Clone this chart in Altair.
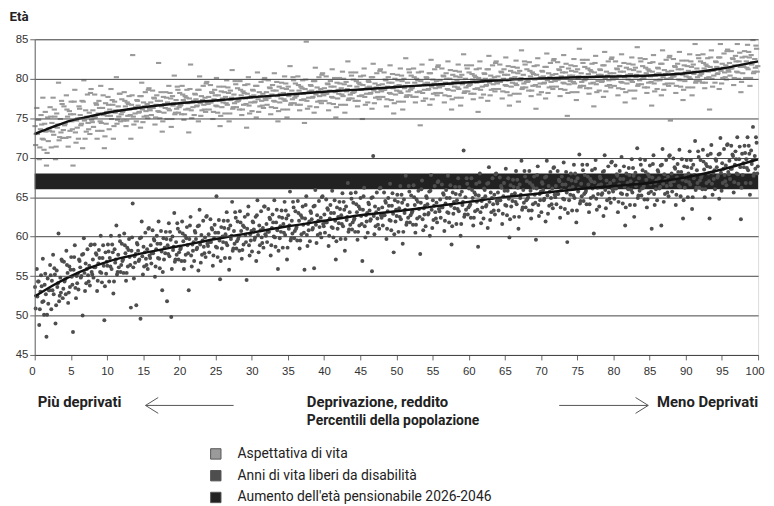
import altair as alt
import pandas as pd

# ---------------- data ----------------
bucket_starts = list(range(0, 100, 2))  # percentile bins, 2 points wide

life_expectancy = [
    "74.0 71.6 76.3 73.0 74.8 69.8 73.6 75.4 72.4 77.6 71.0 74.3 73.3 69.0 75.1 72.1",
    "73.4 76.4 71.3 74.4 77.6 72.9 75.2 69.8 75.6 73.8 79.5 72.2 74.9 73.2 76.8 72.5",
    "76.5 74.1 72.5 77.9 75.2 71.4 75.9 73.4 77.1 74.6 69.0 75.5 78.6 73.2 74.7 73.8",
    "72.4 76.5 75.4 74.1 77.2 71.2 79.8 74.7 76.0 73.3 78.0 74.4 75.7 73.0 78.7 74.8",
    "76.0 73.9 78.0 75.1 76.7 72.4 75.6 77.2 74.6 79.1 73.4 76.3 75.4 71.2 76.9 74.3",
    "75.3 77.7 73.6 76.1 78.7 74.9 76.7 72.4 77.1 75.7 80.2 74.3 76.5 75.2 78.1 74.6",
    "77.4 75.8 74.7 78.3 76.5 74.0 77.0 75.3 77.8 76.1 72.4 76.7 83.0 75.2 76.2 75.6",
    "74.6 77.3 76.6 75.7 77.8 73.8 79.5 76.1 77.0 75.2 78.3 75.9 76.8 75.0 78.8 76.2",
    "77.0 75.4 78.5 76.3 77.5 74.2 76.7 77.9 75.9 82.0 75.0 77.2 76.5 73.3 77.7 75.7",
    "76.3 78.3 74.9 77.0 79.1 76.0 77.5 73.9 77.8 76.6 80.4 75.5 77.3 76.2 78.6 75.7",
    "78.2 76.6 75.5 79.1 77.3 74.8 77.8 76.1 78.6 76.9 73.2 77.5 81.8 76.0 77.0 76.4",
    "75.4 78.1 77.4 76.5 78.6 74.6 80.3 76.9 77.8 76.0 79.1 76.7 77.6 75.8 79.6 77.0",
    "77.7 76.1 79.2 77.0 78.2 74.9 77.4 78.6 76.6 80.1 75.7 77.9 77.2 74.0 78.4 76.4",
    "77.0 79.0 75.6 77.7 79.8 76.7 78.2 74.6 78.5 77.3 81.1 76.2 78.0 76.9 79.3 76.4",
    "78.8 77.2 76.1 79.7 77.9 75.4 78.4 76.7 79.2 77.5 73.8 78.1 80.2 76.6 77.6 77.0",
    "75.9 78.6 77.9 77.0 79.1 75.1 80.8 77.4 78.3 76.5 79.6 77.2 78.1 76.3 80.1 77.5",
    "78.3 76.7 79.8 77.6 78.8 75.5 78.0 79.2 77.2 80.7 76.3 78.5 77.8 74.6 79.0 77.0",
    "77.5 79.5 76.1 78.2 80.3 77.2 78.7 75.1 79.0 77.8 81.6 76.7 78.5 77.4 79.8 76.9",
    "79.4 77.8 76.7 80.3 78.5 76.0 79.0 77.3 79.8 78.1 74.4 78.7 84.7 77.2 78.2 77.6",
    "76.5 79.2 78.5 77.6 79.7 75.7 81.4 78.0 78.9 77.1 80.2 77.8 78.7 76.9 80.7 78.1",
    "78.8 77.2 80.3 78.1 79.3 76.0 78.5 79.7 77.7 81.2 76.8 79.0 78.3 75.1 79.5 77.5",
    "78.1 80.1 76.7 78.8 80.9 77.8 79.3 75.7 79.6 78.4 82.2 77.3 79.1 78.0 80.4 77.5",
    "79.9 78.3 77.2 80.8 79.0 76.5 79.5 77.8 80.3 78.6 74.9 79.2 81.3 77.7 78.7 78.1",
    "77.0 79.7 79.0 78.1 80.2 76.2 81.9 78.5 79.4 77.6 80.7 78.3 79.2 77.4 81.2 78.6",
    "79.3 77.7 80.8 78.6 79.8 76.5 79.0 80.2 78.2 81.7 77.3 79.5 78.8 75.6 80.0 78.0",
    "78.5 80.5 77.1 79.2 81.3 78.2 79.7 76.1 80.0 78.8 82.6 77.7 79.5 78.4 80.8 77.9",
    "80.4 78.8 77.7 81.3 79.5 77.0 80.0 78.3 80.8 79.1 74.1 79.7 81.8 78.2 79.2 78.6",
    "77.5 80.2 79.5 78.6 80.7 76.7 82.4 79.0 79.9 78.1 81.2 78.8 79.7 77.9 81.7 79.1",
    "79.8 78.2 81.3 79.1 80.3 77.0 79.5 80.7 78.7 82.2 77.8 80.0 79.3 76.1 80.5 78.5",
    "79.0 81.0 77.6 79.7 81.8 78.7 80.2 76.6 80.5 79.3 83.1 78.2 80.0 78.9 81.3 78.4",
    "80.8 79.2 78.1 81.7 79.9 77.4 80.4 78.7 81.2 79.5 75.8 80.1 82.2 78.6 79.6 79.0",
    "78.0 80.7 80.0 79.1 81.2 77.2 82.9 79.5 80.4 78.6 81.7 79.3 80.2 78.4 82.2 79.6",
    "80.3 78.7 81.8 79.6 80.8 77.5 80.0 81.2 79.2 82.7 78.3 80.5 79.8 76.6 81.0 79.0",
    "79.5 81.5 78.1 80.2 82.3 79.2 80.7 77.1 81.0 79.8 83.6 78.7 80.5 79.4 81.8 78.9",
    "81.2 79.6 78.5 82.1 80.3 77.8 80.8 79.1 81.6 79.9 76.2 80.5 82.6 79.0 80.0 79.4",
    "78.3 81.0 80.3 79.4 81.5 77.5 83.2 79.8 80.7 78.9 82.0 79.6 80.5 78.7 82.5 79.9",
    "80.6 79.0 82.1 79.9 81.1 77.8 80.3 81.5 79.5 83.0 78.6 80.8 80.1 75.3 81.3 79.3",
    "79.7 81.7 78.3 80.4 82.5 79.4 80.9 77.3 81.2 80.0 83.8 78.9 80.7 79.6 82.0 79.1",
    "81.5 79.9 78.8 82.4 80.6 78.1 81.1 79.4 81.9 80.2 76.5 80.8 82.9 79.3 80.3 79.7",
    "78.5 81.2 80.5 79.6 81.7 77.7 83.4 80.0 80.9 79.1 82.2 79.8 80.7 78.9 82.7 80.1",
    "80.7 79.1 82.2 80.0 81.2 77.9 80.4 81.6 79.6 83.1 78.7 80.9 80.2 77.0 81.4 79.4",
    "79.9 81.9 78.5 80.6 82.7 79.6 81.1 77.5 81.4 80.2 84.0 79.1 80.9 79.8 82.2 79.3",
    "81.6 80.0 78.9 82.5 80.7 78.2 81.2 79.5 82.0 80.3 76.6 80.9 83.0 79.4 80.4 79.8",
    "78.7 81.4 80.7 79.8 81.9 77.9 83.6 80.2 81.1 79.3 82.4 80.0 80.9 79.1 82.9 74.7",
    "81.0 79.4 82.5 80.3 81.5 78.2 80.7 81.9 79.9 83.4 79.0 81.2 80.5 77.3 81.7 79.7",
    "80.3 82.3 78.9 81.0 83.1 80.0 81.5 77.9 81.8 80.6 84.4 79.5 81.3 80.2 82.6 79.7",
    "82.2 80.6 79.5 83.1 81.3 78.8 81.8 80.1 82.6 80.9 76.1 81.5 83.6 80.0 81.0 80.4",
    "79.5 82.2 81.5 80.6 82.7 78.7 84.4 81.0 81.9 80.1 83.2 80.8 81.7 79.9 83.7 81.1",
    "82.0 80.4 83.5 81.3 82.5 79.2 81.7 82.9 80.9 84.4 80.0 82.2 81.5 78.3 82.7 80.7",
    "81.5 83.5 80.1 82.2 84.3 81.2 82.7 79.1 83.0 81.8 84.9 80.7 82.5 81.4 83.8 80.9",
]

life_expectancy_more = [
    "73.0 74.8 71.3 74.2 72.3 75.8 70.6 73.7", "75.2 73.3 76.1 71.4 74.2 72.6 77.2 73.5",
    "74.3 76.1 72.6 75.5 73.6 77.1 71.9 75.0", "76.2 74.3 77.1 72.4 75.2 73.6 78.2 74.5",
    "75.1 76.9 73.4 76.3 74.4 77.9 72.7 75.8", "76.7 75.3 77.3 74.0 76.0 74.8 78.1 75.5",
    "75.9 77.2 74.7 76.8 75.4 77.9 74.2 76.4", "77.2 75.8 77.8 74.5 76.5 75.3 78.6 76.0",
    "76.3 77.6 75.1 77.2 75.8 78.3 74.6 76.8", "77.6 76.2 78.2 74.9 76.9 75.7 79.0 76.4",
    "76.7 78.0 75.5 77.6 76.2 78.7 75.0 77.2", "78.0 76.6 78.6 75.3 77.3 76.1 79.4 76.8",
    "77.0 78.3 75.8 77.9 76.5 79.0 75.3 77.5", "78.3 76.9 78.9 75.6 77.6 76.4 79.7 77.1",
    "77.3 78.6 76.1 78.2 76.8 79.3 75.6 77.8", "78.5 77.1 79.1 75.8 77.8 76.6 79.9 77.3",
    "77.6 78.9 76.4 78.5 77.1 79.6 75.9 78.1", "78.8 77.4 79.4 76.1 78.1 76.9 80.2 77.6",
    "77.9 79.2 76.7 78.8 77.4 79.9 76.2 78.4", "79.1 77.7 79.7 76.4 78.4 77.2 80.5 77.9",
    "78.1 79.4 76.9 79.0 77.6 80.1 76.4 78.6", "79.4 78.0 80.0 76.7 78.7 77.5 80.8 78.2",
    "78.4 79.7 77.2 79.3 77.9 80.4 76.7 78.9", "79.6 78.2 80.2 76.9 78.9 77.7 81.0 78.4",
    "78.6 79.9 77.4 79.5 78.1 80.6 76.9 79.1", "79.8 78.4 80.4 77.1 79.1 77.9 81.2 78.6",
    "78.9 80.2 77.7 79.8 78.4 80.9 77.2 79.4", "80.1 78.7 80.7 77.4 79.4 78.2 81.5 78.9",
    "79.1 80.4 77.9 80.0 78.6 81.1 77.4 79.6", "80.3 78.9 80.9 77.6 79.6 78.4 81.7 79.1",
    "79.3 80.6 78.1 80.2 78.8 81.3 77.6 79.8", "80.6 79.2 81.2 77.9 79.9 78.7 82.0 79.4",
    "79.6 80.9 78.4 80.5 79.1 81.6 77.9 80.1", "80.8 79.4 81.4 78.1 80.1 78.9 82.2 79.6",
    "79.7 81.0 78.5 80.6 79.2 81.7 78.0 80.2", "80.9 79.5 81.5 78.2 80.2 79.0 82.3 79.7",
    "79.9 81.2 78.7 80.8 79.4 81.9 78.2 80.4", "81.0 79.6 81.6 78.3 80.3 79.1 82.4 79.8",
    "80.0 81.3 78.8 80.9 79.5 82.0 78.3 80.5", "81.1 79.7 81.7 78.4 80.4 79.2 82.5 79.9",
    "80.0 81.3 78.8 80.9 79.5 82.0 78.3 80.5", "81.2 79.8 81.8 78.5 80.5 79.3 82.6 80.0",
    "80.1 81.4 78.9 81.0 79.6 82.1 78.4 80.6", "81.3 79.9 81.9 78.6 80.6 79.4 82.7 80.1",
    "80.3 81.6 79.1 81.2 79.8 82.3 78.6 80.8", "81.6 80.2 82.2 78.9 80.9 79.7 83.0 80.4",
    "80.7 82.0 79.5 81.6 80.2 82.7 79.0 81.2", "82.1 80.7 82.7 79.4 81.4 80.2 83.5 80.9",
    "81.3 82.6 80.1 82.2 80.8 83.3 79.6 81.8", "82.8 81.4 83.4 80.1 82.1 80.9 84.2 81.6",
]

disability_free = [
    "53.6 50.9 55.9 52.4 54.3 48.8 53.0 55.1 51.7 57.2 50.1 53.9 52.7 47.3 54.7 51.5",
    "53.2 56.4 50.8 54.4 57.7 52.7 55.2 49.0 55.7 53.6 60.4 51.8 54.8 52.9 56.9 52.2",
    "56.8 54.3 52.7 58.2 55.4 51.6 56.2 53.6 57.4 54.9 47.9 55.8 58.9 53.5 55.0 54.1",
    "53.3 57.1 56.1 54.8 57.7 50.0 59.8 55.4 56.6 54.1 58.4 55.1 56.3 53.8 59.0 55.5",
    "57.1 54.8 59.0 56.1 57.7 53.1 56.6 58.3 55.5 60.1 54.2 57.3 56.3 49.4 58.0 55.3",
    "56.3 59.0 54.3 57.3 60.1 55.9 58.0 52.8 58.4 56.7 61.4 55.2 57.7 56.1 59.4 55.5",
    "59.1 56.9 55.4 60.4 57.9 54.4 58.6 56.2 59.7 57.4 51.0 58.2 64.2 56.1 57.5 56.7",
    "51.3 59.2 58.2 56.9 59.8 49.6 61.9 57.5 58.7 56.2 60.5 57.2 58.4 55.9 61.1 57.6",
    "58.9 56.6 60.8 57.9 59.5 54.9 58.4 60.1 57.3 61.9 56.0 59.1 58.1 53.2 59.8 57.1",
    "57.9 60.6 51.8 58.9 61.7 57.5 59.6 49.8 60.0 58.3 63.0 56.8 59.3 57.7 61.0 57.1",
    "60.6 58.4 56.9 61.9 59.4 55.9 60.1 57.7 61.2 58.9 53.2 59.7 62.5 57.6 59.0 58.2",
    "56.9 60.7 59.7 58.4 61.3 55.7 63.4 59.0 60.2 57.7 62.0 58.7 59.9 57.4 62.6 59.1",
    "60.3 58.0 62.2 59.3 60.9 56.3 59.8 61.5 58.7 65.1 57.4 60.5 59.5 54.6 61.2 58.5",
    "59.3 62.0 57.3 60.3 63.1 58.9 61.0 55.8 61.4 59.7 64.4 58.2 60.7 59.1 62.4 58.5",
    "61.9 59.7 58.2 63.2 60.7 57.2 61.4 59.0 62.5 60.2 54.5 61.0 63.8 58.9 60.3 59.5",
    "58.1 61.9 60.9 59.6 62.5 56.9 64.6 60.2 61.4 58.9 63.2 59.9 61.1 58.6 63.8 60.3",
    "61.6 59.3 63.5 60.6 62.2 57.6 61.1 62.8 60.0 64.6 58.7 61.8 60.8 55.9 62.5 59.8",
    "60.6 63.3 58.6 61.6 64.4 60.2 62.3 57.1 62.7 61.0 65.7 59.5 62.0 60.4 63.7 59.8",
    "63.2 61.0 59.5 64.5 62.0 58.5 62.7 60.3 63.8 61.5 55.8 62.3 65.1 60.2 61.6 60.8",
    "59.4 63.2 62.2 60.9 63.8 56.0 65.9 61.5 62.7 60.2 64.5 61.2 62.4 59.9 65.1 61.6",
    "62.8 60.5 64.7 61.8 63.4 58.8 62.3 64.0 61.2 65.8 59.9 63.0 62.0 57.1 63.7 61.0",
    "61.7 64.4 59.7 62.7 65.5 61.3 63.4 58.2 63.8 62.1 66.8 60.6 63.1 61.5 64.8 60.9",
    "64.3 62.1 60.6 65.6 63.1 59.6 63.8 61.4 64.9 62.6 56.9 63.4 66.2 61.3 62.7 61.9",
    "60.5 64.3 63.3 62.0 64.9 55.6 70.2 62.6 63.8 61.3 65.6 62.3 63.5 61.0 66.2 62.7",
    "63.7 61.4 65.6 62.7 64.3 59.7 63.2 64.9 62.1 66.7 60.8 63.9 62.9 58.0 64.6 61.9",
    "62.6 65.3 60.6 63.6 66.4 62.2 64.3 59.1 64.7 63.0 67.7 61.5 64.0 62.4 65.7 61.8",
    "65.2 63.0 61.5 66.5 64.0 60.5 64.7 62.3 65.8 63.5 57.8 64.3 67.1 62.2 63.6 62.8",
    "61.3 65.1 64.1 62.8 65.7 60.1 67.8 63.4 64.6 62.1 66.4 63.1 64.3 61.8 67.0 63.5",
    "64.7 62.4 66.6 63.7 65.3 60.7 64.2 65.9 63.1 67.7 61.8 64.9 63.9 59.0 65.6 62.9",
    "63.6 66.3 61.6 64.6 67.4 63.2 65.3 60.1 65.7 64.0 70.9 62.5 65.0 63.4 66.7 62.8",
    "66.1 63.9 62.4 67.4 64.9 61.4 65.6 63.2 66.7 64.4 58.7 65.2 68.0 63.1 64.5 63.7",
    "62.3 66.1 65.1 63.8 66.7 61.1 68.8 64.4 65.6 63.1 67.4 64.1 65.3 62.8 68.0 64.5",
    "65.6 63.3 67.5 64.6 66.2 61.6 65.1 66.8 64.0 68.6 62.7 65.8 64.8 59.9 66.5 63.8",
    "64.5 67.2 62.5 65.5 68.3 64.1 66.2 61.0 66.6 64.9 69.6 63.4 65.9 64.3 67.6 63.7",
    "67.0 64.8 63.3 68.3 65.8 62.3 66.5 64.1 67.6 65.3 59.6 66.1 68.9 64.0 65.4 64.6",
    "63.1 66.9 65.9 64.6 67.5 61.9 69.6 65.2 66.4 63.9 68.2 64.9 66.1 63.6 68.8 65.3",
    "66.4 64.1 68.3 65.4 67.0 62.4 65.9 67.6 64.8 69.4 63.5 66.6 65.6 59.3 67.3 64.6",
    "65.3 68.0 63.3 66.3 69.1 64.9 67.0 61.8 67.4 65.7 70.4 64.2 66.7 65.1 68.4 64.5",
    "67.8 65.6 64.1 69.1 66.6 63.1 67.3 64.9 68.4 66.1 60.4 66.9 69.7 64.8 66.2 65.4",
    "63.8 67.6 66.6 65.3 68.2 62.6 70.3 65.9 67.1 64.6 68.9 65.6 66.8 64.3 69.5 66.0",
    "67.1 64.8 69.0 66.1 67.7 63.1 66.6 68.3 65.5 70.1 64.2 67.3 66.3 61.4 68.0 65.3",
    "66.0 68.7 64.0 67.0 69.8 65.6 67.7 62.5 68.1 66.4 71.2 64.9 67.4 65.8 69.1 65.2",
    "68.4 66.2 64.7 69.7 67.2 63.7 67.9 65.5 69.0 66.7 61.0 67.5 70.3 65.4 66.8 66.0",
    "64.6 68.4 67.4 66.1 69.0 61.4 71.1 66.7 67.9 65.4 69.7 66.4 67.6 65.1 70.3 66.8",
    "68.0 65.7 69.9 67.0 68.6 64.0 67.5 69.2 66.4 71.0 65.1 68.2 67.2 62.3 68.9 66.2",
    "67.0 69.7 65.0 68.0 70.8 66.6 68.7 63.5 69.1 67.4 72.1 65.9 68.4 66.8 70.1 66.2",
    "69.7 67.5 66.0 71.0 68.5 65.0 69.2 66.8 70.3 68.0 62.3 68.8 71.6 66.7 68.1 67.3",
    "66.0 69.8 68.8 67.5 70.4 64.8 72.5 68.1 69.3 66.8 71.1 67.8 69.0 66.5 71.7 68.2",
    "69.6 67.3 71.5 68.6 70.2 65.6 69.1 70.8 68.0 72.6 66.7 69.8 68.8 62.2 70.5 67.8",
    "68.8 71.5 66.8 69.8 72.6 68.4 70.5 65.3 70.9 69.2 73.9 67.7 70.2 68.6 71.9 68.0",
]

disability_free_more = [
    "52.5 54.3 50.8 53.7 51.8 55.3 50.1 53.2", "55.1 53.2 56.0 51.3 54.1 52.5 57.1 53.4",
    "54.6 56.4 52.9 55.8 53.9 57.4 52.2 55.3", "56.9 55.0 57.8 53.1 55.9 54.3 58.9 55.2",
    "56.1 57.9 54.4 57.3 55.4 58.9 53.7 56.8", "58.1 56.2 59.0 54.3 57.1 55.5 60.1 56.4",
    "57.1 58.9 55.4 58.3 56.4 59.9 54.7 57.8", "59.0 57.1 59.9 55.2 58.0 56.4 61.0 57.3",
    "57.9 59.7 56.2 59.1 57.2 60.7 55.5 58.6", "59.7 57.8 60.6 55.9 58.7 57.1 61.7 58.0",
    "58.6 60.4 56.9 59.8 57.9 61.4 56.2 59.3", "60.5 58.6 61.4 56.7 59.5 57.9 62.5 58.8",
    "59.3 61.1 57.6 60.5 58.6 62.1 56.9 60.0", "61.1 59.2 62.0 57.3 60.1 58.5 63.1 59.4",
    "60.0 61.8 58.3 61.2 59.3 62.8 57.6 60.7", "61.8 59.9 62.7 58.0 60.8 59.2 63.8 60.1",
    "60.6 62.4 58.9 61.8 59.9 63.4 58.2 61.3", "62.4 60.5 63.3 58.6 61.4 59.8 64.4 60.7",
    "61.2 63.0 59.5 62.4 60.5 64.0 58.8 61.9", "63.0 61.1 63.9 59.2 62.0 60.4 65.0 61.3",
    "61.8 63.6 60.1 63.0 61.1 64.6 59.4 62.5", "63.5 61.6 64.4 59.7 62.5 60.9 65.5 61.8",
    "62.3 64.1 60.6 63.5 61.6 65.1 59.9 63.0", "64.1 62.2 65.0 60.3 63.1 61.5 66.1 62.4",
    "62.7 64.5 61.0 63.9 62.0 65.5 60.3 63.4", "64.4 62.5 65.3 60.6 63.4 61.8 66.4 62.7",
    "63.2 65.0 61.5 64.4 62.5 66.0 60.8 63.9", "64.9 63.0 65.8 61.1 63.9 62.3 66.9 63.2",
    "63.7 65.5 62.0 64.9 63.0 66.5 61.3 64.4", "65.4 63.5 66.3 61.6 64.4 62.8 67.4 63.7",
    "64.1 65.9 62.4 65.3 63.4 66.9 61.7 64.8", "65.9 64.0 66.8 62.1 64.9 63.3 67.9 64.2",
    "64.6 66.4 62.9 65.8 63.9 67.4 62.2 65.3", "66.3 64.4 67.2 62.5 65.3 63.7 68.3 64.6",
    "65.0 66.8 63.3 66.2 64.3 67.8 62.6 65.7", "66.7 64.8 67.6 62.9 65.7 64.1 68.7 65.0",
    "65.4 67.2 63.7 66.6 64.7 68.2 63.0 66.1", "67.1 65.2 68.0 63.3 66.1 64.5 69.1 65.4",
    "65.8 67.6 64.1 67.0 65.1 68.6 63.4 66.5", "67.4 65.5 68.3 63.6 66.4 64.8 69.4 65.7",
    "66.1 67.9 64.4 67.3 65.4 68.9 63.7 66.8", "67.8 65.9 68.7 64.0 66.8 65.2 69.8 66.1",
    "66.4 68.2 64.7 67.6 65.7 69.2 64.0 67.1", "68.2 66.3 69.1 64.4 67.2 65.6 70.2 66.5",
    "67.0 68.8 65.3 68.2 66.3 69.8 64.6 67.7", "68.8 66.9 69.7 65.0 67.8 66.2 70.8 67.1",
    "67.7 69.5 66.0 68.9 67.0 70.5 65.3 68.4", "69.6 67.7 70.5 65.8 68.6 67.0 71.6 67.9",
    "68.6 70.4 66.9 69.8 67.9 71.4 66.2 69.3", "70.6 68.7 71.5 66.8 69.6 68.0 72.6 68.9",
]

trend_x = [0, 2.5, 5, 7.5, 10, 15, 20, 25, 30, 35, 40, 45, 50, 55, 60, 65, 70, 75, 80, 85, 90, 95, 100]
le_trend = [73.0, 73.9, 74.7, 75.2, 75.7, 76.4, 76.9, 77.25, 77.65, 78.0, 78.35, 78.65, 78.95,
            79.25, 79.55, 79.85, 80.05, 80.2, 80.3, 80.4, 80.7, 81.3, 82.2]
dfle_trend = [52.4, 53.8, 55.0, 56.0, 56.8, 57.9, 58.8, 59.7, 60.5, 61.3, 62.0, 62.7, 63.2,
              63.8, 64.4, 65.0, 65.5, 66.0, 66.4, 66.8, 67.5, 68.5, 69.8]

band_from = [0]
band_to = [100]
band_low = [66]
band_high = [68]

series_names = ["Aspettativa di vita", "Anni di vita liberi da disabilità",
                "Aumento dell'età pensionabile 2026-2046"]
series_colors = ["#9a9a9a", "#4e4e4e", "#222222"]

x_ticks = list(range(0, 101, 5))
y_ticks = list(range(45, 86, 5))

left_label = ["Più deprivati"]
right_label = ["Meno Deprivati"]
center_label = ["Deprivazione, reddito", "Percentili della popolazione"]
y_title = "Età"

# ---------------- tables ----------------
def bucket_table(rows, more_rows, name):
    recs = []
    for start, row, more in zip(bucket_starts, rows, more_rows):
        a = [float(v) for v in row.split()]
        b = [float(v) for v in more.split()]
        vals = []
        # interleave: two from the main reading, one from the extra reading
        for k in range(len(b)):
            vals += a[2 * k:2 * k + 2] + [b[k]]
        vals += a[2 * len(b):]
        n = len(vals)
        for i, v in enumerate(vals):
            recs.append({"x": start + 2.0 * (i + 0.5) / n, "y": v, "series": name})
    return pd.DataFrame(recs)

le_df = bucket_table(life_expectancy, life_expectancy_more, series_names[0])
dfle_df = bucket_table(disability_free, disability_free_more, series_names[1])
trend_df = pd.DataFrame(
    [{"x": a, "y": b, "k": "le"} for a, b in zip(trend_x, le_trend)]
    + [{"x": a, "y": b, "k": "dfle"} for a, b in zip(trend_x, dfle_trend)]
)
band_df = pd.DataFrame({"x": band_from, "x2": band_to, "y": band_low, "y2": band_high,
                        "series": [series_names[2]]})

FONT_NUM = "Liberation Sans"
FONT_TXT = "Roboto, sans-serif"

color_scale = alt.Scale(domain=series_names, range=series_colors)
legend = alt.Legend(
    title=None, orient="none", legendX=176, legendY=412,
    symbolType="square", symbolSize=110, symbolStrokeColor="#555555",
    symbolStrokeWidth=1, symbolOpacity=1,
    labelFont=FONT_TXT, labelFontSize=14, labelColor="#222222",
    labelOffset=15, rowPadding=6, labelLimit=400,
)

X = alt.X("x:Q", scale=alt.Scale(domain=[0, 100], nice=False),
          axis=alt.Axis(values=x_ticks, tickCount=40, labelOverlap=False, title=None, grid=False,
                        labelFont=FONT_NUM, labelFontSize=11.5, labelColor="#333333",
                        tickColor="#666666", domainColor="#666666", tickSize=5,
                        labelPadding=6, labelFlush=True, labelFlushOffset=6))
Y = alt.Y("y:Q", scale=alt.Scale(domain=[45, 85], nice=False),
          axis=alt.Axis(values=y_ticks, tickCount=40, labelOverlap=False, grid=True,
                        gridColor="#444444", gridWidth=1,
                        title=y_title, titleAngle=0, titleAlign="left", titleX=-26,
                        titleY=-16, titleFont=FONT_TXT, titleFontSize=13.5,
                        titleFontWeight="bold", titleColor="#222222",
                        labelFont=FONT_NUM, labelFontSize=11.5, labelColor="#333333",
                        tickColor="#666666", domainColor="#666666", tickSize=5,
                        labelPadding=2, zindex=1))

le_layer = alt.Chart(le_df).mark_point(
    shape="M-1,-0.4H1V0.4H-1Z", filled=True, size=28, opacity=1
).encode(x=X, y=Y, color=alt.Color("series:N", scale=color_scale, legend=legend))

band_layer = alt.Chart(band_df).mark_rect(opacity=1).encode(
    x="x:Q", x2="x2:Q", y="y:Q", y2="y2:Q",
    color=alt.Color("series:N", scale=color_scale, legend=legend))

dfle_layer = alt.Chart(dfle_df).mark_circle(size=16, opacity=1).encode(
    x="x:Q", y="y:Q", color=alt.Color("series:N", scale=color_scale, legend=legend))

trend_layer = alt.Chart(trend_df).mark_line(
    color="#111111", strokeWidth=2.5, interpolate="monotone"
).encode(x="x:Q", y="y:Q", detail="k:N")

txt_style = dict(font=FONT_TXT, fontWeight="bold", color="#222222", baseline="middle")

left_txt = alt.Chart(pd.DataFrame({"t": left_label})).mark_text(
    align="left", fontSize=15, **txt_style).encode(text="t:N", x=alt.value(3), y=alt.value(367))
right_txt = alt.Chart(pd.DataFrame({"t": right_label})).mark_text(
    align="right", fontSize=15, **txt_style).encode(text="t:N", x=alt.value(731), y=alt.value(367))
center_txt1 = alt.Chart(pd.DataFrame({"t": center_label[:1]})).mark_text(
    align="left", fontSize=15, **txt_style).encode(text="t:N", x=alt.value(275), y=alt.value(367))
center_txt2 = alt.Chart(pd.DataFrame({"t": center_label[1:]})).mark_text(
    align="left", fontSize=14, **txt_style).encode(text="t:N", x=alt.value(275), y=alt.value(386))

arrow_df = pd.DataFrame({"a": [1]})
left_shaft = alt.Chart(arrow_df).mark_rule(color="#555555", strokeWidth=1).encode(
    x=alt.value(112), x2=alt.value(201), y=alt.value(370))
right_shaft = alt.Chart(arrow_df).mark_rule(color="#555555", strokeWidth=1).encode(
    x=alt.value(530), x2=alt.value(620), y=alt.value(370))
left_head = alt.Chart(arrow_df).mark_point(
    shape="M0.6,-1L-1,0L0.6,1", filled=False, size=256, color="#555555", strokeWidth=1, opacity=1
).encode(x=alt.value(120), y=alt.value(370))
right_head = alt.Chart(arrow_df).mark_point(
    shape="M-0.6,-1L1,0L-0.6,1", filled=False, size=256, color="#555555", strokeWidth=1, opacity=1
).encode(x=alt.value(612), y=alt.value(370))

chart = alt.layer(
    le_layer, band_layer, dfle_layer, trend_layer,
    left_txt, right_txt, center_txt1, center_txt2,
    left_shaft, right_shaft, left_head, right_head,
).properties(
    width=731, height=319,
    autosize=alt.AutoSizeParams(type="none"),
    padding={"left": 27, "top": 29, "right": 8, "bottom": 150},
).configure_view(strokeWidth=0).configure(background="white")

chart.save("out.html", embed_options={"renderer": "svg", "actions": False})
